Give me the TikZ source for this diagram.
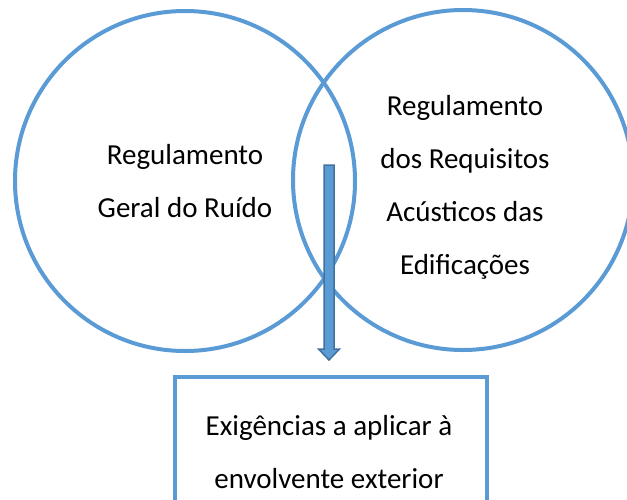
\documentclass[tikz,border=0pt]{standalone}
\usepackage{fontspec}
\setmainfont{Carlito}
\definecolor{ringblue}{HTML}{5B9BD5}
\definecolor{arrowedge}{HTML}{41719C}

\begin{document}
\begin{tikzpicture}[x=1pt,y=-1pt,
    ring node/.style={circle,draw=ringblue,line width=4pt,minimum size=340pt,inner sep=0pt},
    label node/.style={align=center,anchor=base,inner sep=0pt,font=\fontsize{29}{53}\selectfont},
    req node/.style={rectangle,draw=ringblue,line width=4pt,minimum width=312pt,minimum height=150pt,anchor=north west,inner sep=0pt},
    block arrow/.style={fill=ringblue,draw=arrowedge,line width=1.5pt,line join=miter}]

  \useasboundingbox (0,0) rectangle (627,499);
  \clip (0,0) rectangle (627,499);

  % the two regulations
  \node[ring node] (rgr) at (185,181) {};
  \node[ring node] (rraed) at (463,180) {};

  \node[label node] (rgrtext) at (185,217) {Regulamento\\Geral do Ruído};
  \node[label node] (rraedtext) at (465,274) {Regulamento\\dos Requisitos\\Acústicos das\\Edificações};

  % what applies to the outer envelope
  \node[req node] (req) at (173,375) {};
  \node[label node] (reqtext) at (329,488) {Exigências a aplicar à\\envolvente exterior};

  \coordinate (arrowtop) at (329,165);
  \coordinate (arrowtip) at (329,360);
  \draw[block arrow] (arrowtop) ++(-5,0) -- ++(10,0) -- ++(0,184) -- ++(5.5,0)
    -- (arrowtip) -- ++(-10.5,-11) -- ++(5.5,0) -- cycle;
\end{tikzpicture}
\end{document}
